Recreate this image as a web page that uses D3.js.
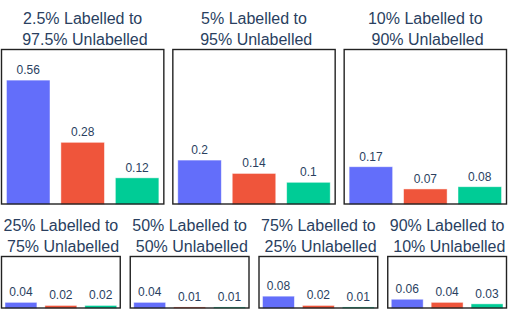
<!DOCTYPE html>
<html>
<head>
<meta charset="utf-8">
<script src="https://cdn.jsdelivr.net/npm/d3@7"></script>
<style>
  html, body { margin: 0; padding: 0; background: #fff; }
  svg { display: block; font-family: "Liberation Sans", Arial, sans-serif; }
</style>
</head>
<body>
<div id="chart"></div>
<script>
// data
const series = ["Series 1", "Series 2", "Series 3"];
const colors = ["#636efa", "#ef553b", "#00cc96"];

const topTitles = [
  ["2.5% Labelled to", " 97.5% Unlabelled"],
  ["5% Labelled to", " 95% Unlabelled"],
  ["10% Labelled to", " 90% Unlabelled"]
];
const topValues = [
  [0.56, 0.28, 0.12],
  [0.2, 0.14, 0.1],
  [0.17, 0.07, 0.08]
];

const bottomTitles = [
  ["25% Labelled to", " 75% Unlabelled"],
  ["50% Labelled to", " 50% Unlabelled"],
  ["75% Labelled to", " 25% Unlabelled"],
  ["90% Labelled to", " 10% Unlabelled"]
];
const bottomValues = [
  [0.04, 0.02, 0.02],
  [0.04, 0.01, 0.01],
  [0.08, 0.02, 0.01],
  [0.06, 0.04, 0.03]
];

const W = 508, H = 310;
const textColor = "#2a3f5f";

const svg = d3.select("#chart").append("svg")
  .attr("width", W)
  .attr("height", H);

function drawRow(titles, values, top, bottom, gap, yMax) {
  const n = titles.length;
  const left = 1, right = 507;
  const pw = (right - left - gap * (n - 1)) / n;

  const y = d3.scaleLinear().domain([0, yMax]).range([bottom, top]);

  titles.forEach((title, i) => {
    const x0 = left + i * (pw + gap);
    const g = svg.append("g");

    const x = d3.scaleBand()
      .domain(series)
      .range([x0, x0 + pw])
      .paddingInner(0.2)
      .paddingOuter(0.1);

    g.selectAll("rect.bar")
      .data(values[i])
      .join("rect")
      .attr("class", "bar")
      .attr("x", (d, j) => x(series[j]))
      .attr("y", d => y(d))
      .attr("width", x.bandwidth())
      .attr("height", d => bottom - y(d))
      .attr("fill", (d, j) => colors[j])
      .attr("stroke", "rgba(255,255,255,0.6)")
      .attr("stroke-width", 0.8);

    g.selectAll("text.val")
      .data(values[i])
      .join("text")
      .attr("class", "val")
      .attr("x", (d, j) => x(series[j]) + x.bandwidth() / 2)
      .attr("y", d => y(d) - 6)
      .attr("text-anchor", "middle")
      .attr("font-size", "12px")
      .attr("fill", textColor)
      .text(d => d);

    g.append("rect")
      .attr("x", x0 + 0.5)
      .attr("y", top + 0.5)
      .attr("width", pw - 1)
      .attr("height", bottom - top - 1)
      .attr("fill", "none")
      .attr("stroke", "#222")
      .attr("stroke-width", 1.4);

    const cx = x0 + pw / 2;
    title.forEach((line, k) => {
      g.append("text")
        .attr("x", cx)
        .attr("y", top - 4.5 - (title.length - 1 - k) * 20.5)
        .attr("text-anchor", "middle")
        .attr("font-size", "16px")
        .attr("fill", textColor)
        .style("white-space", "pre")
        .text(line);
    });
  });
}

drawRow(topTitles, topValues, 49, 204.5, 8, 0.7);
drawRow(bottomTitles, bottomValues, 256, 308.5, 9, 0.34);
</script>
</body>
</html>
